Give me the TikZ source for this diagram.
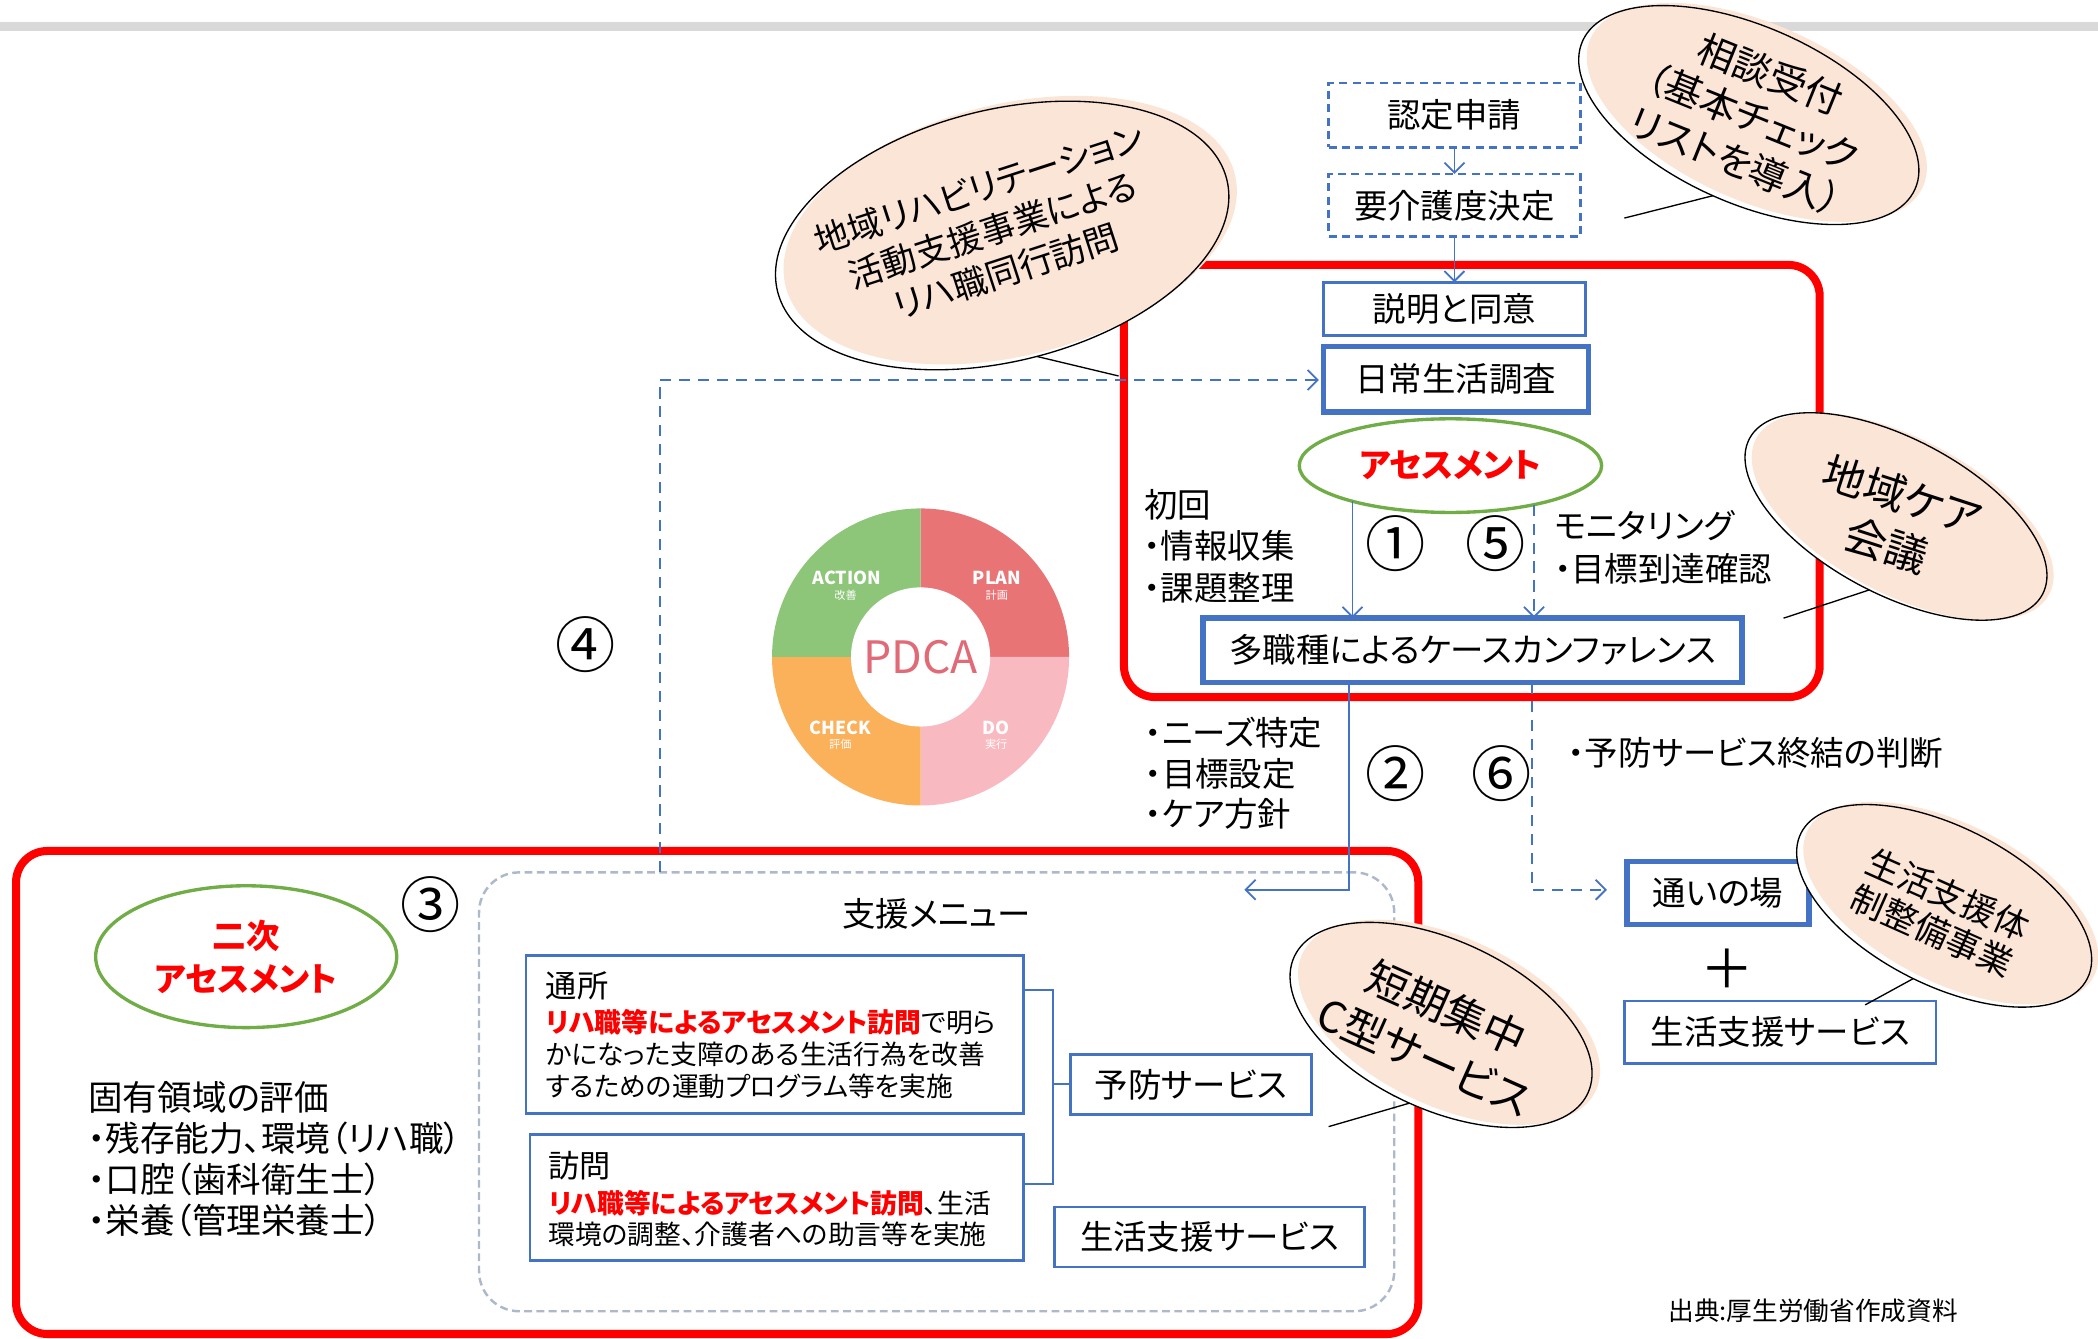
\documentclass[tikz,border=0pt]{standalone}
\usepackage{fontspec}
\setmainfont{Noto Sans CJK JP}[RawFeature=+palt]
\usetikzlibrary{arrows.meta,shapes.geometric,calc}
\definecolor{pblue}{HTML}{4472C4}
\definecolor{pred}{HTML}{FF0000}
\definecolor{pgreen}{HTML}{70AD47}
\definecolor{pgray}{HTML}{ADB9CA}
\definecolor{peach}{HTML}{FBE5D6}
\definecolor{barg}{HTML}{D9D9D9}
\definecolor{cact}{HTML}{8DC679}
\definecolor{cplan}{HTML}{E87476}
\definecolor{cdo}{HTML}{F9B9C1}
\definecolor{cchk}{HTML}{FBB05A}
\definecolor{cpdca}{HTML}{E06A76}
\newcommand\fs[2]{\fontsize{#1}{#2}\selectfont}
\begin{document}
\begin{tikzpicture}[x=0.6pt,y=-0.6pt,
  box/.style={draw=pblue,line width=1.2pt,inner sep=0pt,outer sep=0pt,font=\fs{15}{18}},
  thickbox/.style={box,line width=2.4pt},
  dbox/.style={box,dash pattern=on 3.6pt off 2.4pt},
  frame/.style={draw=pred,line width=3.6pt,rounded corners=14pt,inner sep=0pt,outer sep=0pt},
  arr/.style={draw=pblue,line width=0.8pt,-{Straight Barb[length=4.5pt,width=9pt]}},
  darr/.style={arr,dash pattern=on 5pt off 3.5pt},
  lbl/.style={inner sep=0pt,outer sep=0pt,align=left,font=\fs{15}{18.6}},
  num/.style={inner sep=0pt,font=\fs{27}{27}},
  oval/.style={ellipse,draw=pgreen,line width=1.5pt,inner sep=0pt,outer sep=0pt,align=center},
  bw/.style={ellipse,fill=white,inner sep=0pt,outer sep=0pt},
  bp/.style={ellipse,fill=peach,inner sep=0pt,outer sep=0pt},
  bo/.style={ellipse,draw=black,line width=0.6pt,inner sep=0pt,outer sep=0pt},
  btxt/.style={inner sep=0pt,align=center},
  tail/.style={draw=black,line width=0.6pt},
  bracket/.style={draw=pblue,line width=0.8pt},
  plab/.style={inner sep=0pt,text=white,font=\bfseries\fs{8}{8}},
  psub/.style={inner sep=0pt,text=white,font=\fs{5}{5}}
]
\path[use as bounding box] (0,0) rectangle (1568,1000);
\fill[barg] (0,16.5) rectangle (1568,23);

% frames
\node[frame,minimum width=312pt,minimum height=193.8pt] (uframe) at (1100,359.5) {};
\node[frame,minimum width=628.8pt,minimum height=216.6pt] (lframe) at (536,816.5) {};
\node[draw=pgray,line width=1.1pt,dash pattern=on 3.5pt off 2pt,rounded corners=18pt,minimum width=410.4pt,minimum height=196.8pt,inner sep=0pt,outer sep=0pt] (menu) at (700,816) {};

% top flow
\node[dbox,minimum width=112.8pt,minimum height=28.8pt] (nintei) at (1087,86) {認定申請};
\node[dbox,minimum width=112.8pt,minimum height=28.2pt] (yokaigo) at (1087,153.5) {要介護度決定};
\node[box,minimum width=117.6pt,minimum height=24pt] (setsumei) at (1087,231) {説明と同意};
\node[thickbox,minimum width=118.8pt,minimum height=29.4pt] (nichijo) at (1088,283.5) {日常生活調査};
\node[oval,minimum width=135.6pt,minimum height=42pt,font=\bfseries\fs{15}{18},text=pred] (assess) at (1084,348) {アセスメント};
\node[thickbox,minimum width=241.8pt,minimum height=28.8pt] (conf) at (1100.5,486) {多職種によるケースカンファレンス};

\node[lbl,anchor=west] (shokai) at (855,408) {初回\\・情報収集\\・課題整理};
\node[num] (n1) at (1043,406) {①};
\node[num] (n5) at (1118,406) {⑤};
\node[lbl,anchor=west,font=\fs{15}{19.2}] (moni) at (1162,409) {モニタリング\\・目標到達確認};
\node[lbl,anchor=west,font=\fs{15}{18.3}] (needs) at (856,578) {・ニーズ特定\\・目標設定\\・ケア方針};
\node[num] (n2) at (1043,578) {②};
\node[num] (n6) at (1122,578) {⑥};
\node[lbl,anchor=west] (shuketsu) at (1172,563) {・予防サービス終結の判断};
\node[num] (n3) at (322,676) {③};
\node[num] (n4) at (438,482) {④};

% right services
\node[thickbox,minimum width=81.6pt,minimum height=28.2pt] (kayoi) at (1284,667.5) {通いの場};
\node[inner sep=0pt,font=\fs{24}{24}] (plus) at (1291,724) {＋};
\node[box,minimum width=139.8pt,minimum height=28.2pt] (seik1) at (1330.5,771.5) {生活支援サービス};

% lower left
\node[oval,minimum width=135pt,minimum height=63.6pt,font=\bfseries\fs{15}{19.2},text=pred] (niji) at (184,715) {二次\\アセスメント};
\node[lbl,anchor=west,font=\fs{15.5}{18.4}] (koyu) at (66,866) {固有領域の評価\\・残存能力、環境（リハ職）\\・口腔（歯科衛生士）\\・栄養（管理栄養士）};

% menu
\node[lbl,font=\fs{15}{18}] (menut) at (700,683) {支援メニュー};
\node[box,minimum width=223.2pt,minimum height=70.8pt] (tsusho) at (579,773) {};
\node[lbl,anchor=west,font=\fs{14}{16}] (tsushoh) at (408,737) {通所};
\node[lbl,anchor=west,font=\fs{12}{14.4}] (tsushob) at (408,788) {{\color{pred}\bfseries リハ職等によるアセスメント訪問}で明ら\\かになった支障のある生活行為を改善\\するための運動プログラム等を実施};
\node[box,minimum width=221.4pt,minimum height=56.4pt] (homon) at (580.5,895) {};
\node[lbl,anchor=west,font=\fs{14}{16}] (homonh) at (410,871) {訪問};
\node[lbl,anchor=west,font=\fs{12}{14}] (homonb) at (410,910.5) {{\color{pred}\bfseries リハ職等によるアセスメント訪問}、生活\\環境の調整、介護者への助言等を実施};
\node[box,minimum width=108pt,minimum height=27pt] (yobo) at (890,810.5) {予防サービス};
\node[box,minimum width=139.2pt,minimum height=27pt] (seik2) at (904,924.5) {生活支援サービス};

\coordinate (bt) at (787,740);
\coordinate (bb) at (787,885);
\coordinate (bm) at (787,810);
\draw[bracket] (tsusho.east |- bt) -- (bt) -- (bb) -- (homon.east |- bb);
\draw[bracket] (bm) -- (yobo.west |- bm);

\node[inner sep=0pt,font=\fs{11.5}{12}] (source) at (1355,980) {出典:厚生労働省作成資料};

% PDCA
\coordinate (pd) at (688,491);
\fill[cplan] (pd) -- ++(270:111) arc[start angle=270,end angle=360,radius=111] -- cycle;
\fill[cdo] (pd) -- ++(0:111) arc[start angle=0,end angle=90,radius=111] -- cycle;
\fill[cchk] (pd) -- ++(90:111) arc[start angle=90,end angle=180,radius=111] -- cycle;
\fill[cact] (pd) -- ++(180:111) arc[start angle=180,end angle=270,radius=111] -- cycle;
\fill[white] (pd) circle[radius=52];
\node[inner sep=0pt,font=\fs{20}{20},text=cpdca] (pdca) at (pd) {PDCA};
\node[plab] (lact) at (633,432) {ACTION};
\node[psub] (lacts) at (632,445) {改善};
\node[plab] (lplan) at (745,432) {PLAN};
\node[psub] (lplans) at (745,445) {計画};
\node[plab] (lchk) at (628,544) {CHECK};
\node[psub] (lchks) at (628,556) {評価};
\node[plab] (ldo) at (744.5,544) {DO};
\node[psub] (ldos) at (744.5,556) {実行};

% arrows
\draw[arr] (nintei) -- (yokaigo);
\draw[arr] (yokaigo) -- (setsumei);
\draw[arr] (assess.200) -- (assess.200 |- conf.north);
\draw[darr] (assess.-25) -- (assess.-25 |- conf.north);
\coordinate (c2) at (1008,665);
\coordinate (menuin) at (930,665);
\draw[arr] (conf.south -| c2) -- (c2) -- (menuin);
\coordinate (c6) at (1145,665);
\draw[darr,shorten >=9pt] (conf.south -| c6) -- (c6) -- (kayoi.west |- c6);
\coordinate (c4) at (493,284);
\draw[darr,shorten >=2pt] (menu.north -| c4) -- (c4) -- (nichijo.west |- c4);

% bubbles
% regional rehab
\node[bw,rotate=14,minimum width=207.6pt,minimum height=112.8pt] (rbw) at (749,176) {};
\node[bp,rotate=14,minimum width=207.6pt,minimum height=112.8pt] (rbp) at (755,172) {};
\node[bo,rotate=14,minimum width=207.6pt,minimum height=112.8pt] (rb) at (749,176) {};
\node[btxt,rotate=18,font=\fs{15.5}{19.5}] (rbt) at (742,172) {地域リハビリテーション\\活動支援事業による\\リハ職同行訪問};
\coordinate (rbe) at (836,281);
\draw[tail] (rb.-88) -- (rbe);
% soudan
\node[bw,rotate=-24,minimum width=163.2pt,minimum height=79.2pt] (sdw) at (1307,86) {};
\node[bp,rotate=-24,minimum width=163.2pt,minimum height=79.2pt] (sdp) at (1313,84) {};
\node[bo,rotate=-24,minimum width=163.2pt,minimum height=79.2pt] (sd) at (1307,86) {};
\node[btxt,rotate=-22,font=\fs{17}{21}] (sdt) at (1310,88) {相談受付\\（基本チェック\\リストを導入）};
\coordinate (sde) at (1214,163);
\draw[tail] (sd.south) -- (sde);
% community care meeting
\node[bw,rotate=-28,minimum width=148.8pt,minimum height=69.6pt] (ccw) at (1417,386) {};
\node[bp,rotate=-28,minimum width=148.8pt,minimum height=69.6pt] (ccp) at (1422,386) {};
\node[bo,rotate=-28,minimum width=148.8pt,minimum height=69.6pt] (cc) at (1417,386) {};
\node[btxt,rotate=-18,font=\fs{19}{23.5}] (cct) at (1416,389) {地域ケア\\会議};
\coordinate (cce) at (1333,462);
\draw[tail] (cc.-82) -- (cce);
% short term C
\node[bw,rotate=-25,minimum width=145.2pt,minimum height=75.6pt] (tkw) at (1077,766) {};
\node[bp,rotate=-25,minimum width=145.2pt,minimum height=75.6pt] (tkp) at (1083,764) {};
\node[bo,rotate=-25,minimum width=145.2pt,minimum height=75.6pt] (tk) at (1077,766) {};
\node[btxt,rotate=-24,font=\fs{19}{24}] (tkt) at (1073,771) {短期集中\\C型サービス};
\coordinate (tke) at (993,842);
\draw[tail] (tk.-87) -- (tke);
% life support system
\node[bw,rotate=-27,minimum width=144pt,minimum height=70.8pt] (sbw) at (1453,677) {};
\node[bp,rotate=-27,minimum width=144pt,minimum height=70.8pt] (sbp) at (1458,675) {};
\node[bo,rotate=-27,minimum width=144pt,minimum height=70.8pt] (sb) at (1453,677) {};
\node[btxt,rotate=-24,font=\fs{15.5}{17.5}] (sbt) at (1450,682) {生活支援体\\制整備事業};
\coordinate (sbe) at (1394,751);
\draw[tail] (sb.-86) -- (sbe);
\end{tikzpicture}
\end{document}
